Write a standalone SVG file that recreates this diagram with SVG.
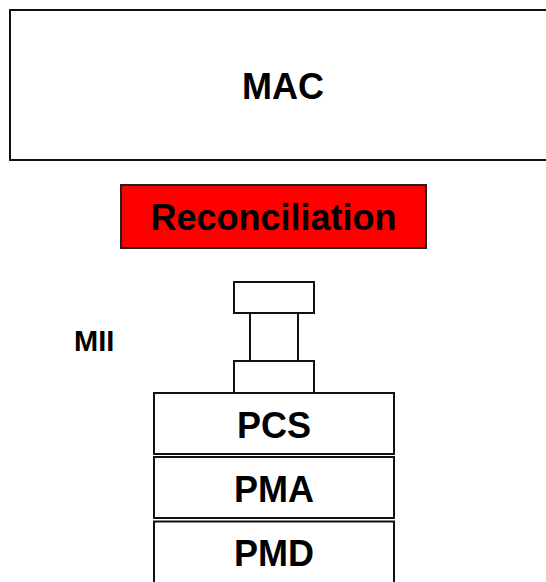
<svg xmlns="http://www.w3.org/2000/svg" width="546" height="582" viewBox="0 0 546 582">
  <style>
    .box { fill: #ffffff; stroke: #111111; stroke-width: 2; }
    .red { fill: #ff0000; stroke: #222222; stroke-width: 2; }
    .lbl { font-family: "Liberation Sans", Arial, Helvetica, sans-serif; font-weight: bold; font-size: 36px; fill: #000000; text-anchor: middle; }
    .side { font-family: "Liberation Sans", Arial, Helvetica, sans-serif; font-weight: bold; font-size: 29px; fill: #000000; }
  </style>
  <rect x="0" y="0" width="546" height="582" fill="#ffffff"/>
  <g id="mac">
    <rect class="box" x="10" y="10" width="560" height="150"/>
    <text class="lbl" x="283" y="99">MAC</text>
  </g>
  <g id="reconciliation">
    <rect class="red" x="121" y="185" width="305" height="63"/>
    <text class="lbl" x="273.5" y="230">Reconciliation</text>
  </g>
  <g id="mii">
    <rect class="box" x="234" y="282" width="80" height="31"/>
    <rect class="box" x="250" y="313" width="48" height="48"/>
    <rect class="box" x="234" y="361" width="80" height="32"/>
    <text class="side" x="74" y="351">MII</text>
  </g>
  <g id="pcs">
    <rect class="box" x="154" y="393" width="240" height="61"/>
    <text class="lbl" x="274" y="438">PCS</text>
  </g>
  <g id="pma">
    <rect class="box" x="154" y="457" width="240" height="61"/>
    <text class="lbl" x="274" y="502">PMA</text>
  </g>
  <g id="pmd">
    <rect class="box" x="154" y="521.5" width="240" height="80"/>
    <text class="lbl" x="274" y="566">PMD</text>
  </g>
  <g id="connectors"></g>
</svg>
